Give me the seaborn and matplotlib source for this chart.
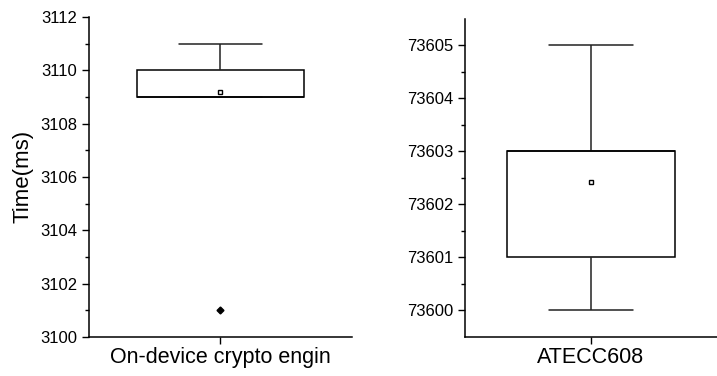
import matplotlib
matplotlib.use("Agg")
import matplotlib.pyplot as plt
from matplotlib.ticker import MultipleLocator, FixedLocator
import seaborn as sns
import pandas as pd

# Measured execution times (ms) for each signing backend
engine_label = "On-device crypto engin"
engine_times = [3101,
                3109, 3109, 3109, 3109, 3109, 3109, 3109, 3109, 3109, 3109,
                3110, 3110, 3110, 3110, 3110, 3110,
                3111, 3111, 3111]

atecc_label = "ATECC608"
atecc_times = [73600, 73600,
               73601, 73601, 73601, 73601, 73601,
               73602,
               73603, 73603, 73603, 73603, 73603, 73603, 73603, 73603, 73603, 73603,
               73604,
               73605, 73605]

sns.set_theme(style="ticks")
plt.rcParams["font.family"] = ["Liberation Sans", "DejaVu Sans"]
plt.rcParams["text.color"] = "black"
plt.rcParams["axes.labelcolor"] = "black"

fig = plt.figure(figsize=(7.17, 3.76), dpi=100)
ax1 = fig.add_axes([0.124, 0.104, 0.367, 0.851])
ax2 = fig.add_axes([0.6485, 0.104, 0.351, 0.8455])

box_kw = dict(
    color="white", linecolor="black", linewidth=1.1,
    showmeans=True,
    meanprops=dict(marker="s", markerfacecolor="white", markeredgecolor="black",
                   markersize=3.5, markeredgewidth=1.0),
    flierprops=dict(marker="D", markerfacecolor="black", markeredgecolor="black",
                    markersize=3.5),
    whiskerprops=dict(color="#222222", linewidth=1.1),
    capprops=dict(color="#222222", linewidth=1.1),
)

df1 = pd.DataFrame({"device": engine_label, "time": engine_times})
df2 = pd.DataFrame({"device": atecc_label, "time": atecc_times})

sns.boxplot(data=df1, x="device", y="time", ax=ax1, width=0.635, **box_kw)
sns.boxplot(data=df2, x="device", y="time", ax=ax2, width=0.667, **box_kw)

ax1.set_ylim(3100, 3112)
ax1.yaxis.set_major_locator(MultipleLocator(2))
ax1.yaxis.set_minor_locator(FixedLocator([3101, 3103, 3105, 3107, 3109, 3111]))
ax1.set_ylabel("Time(ms)", fontsize=16, labelpad=5, color="black")

ax2.set_ylim(73599.5, 73605.5)
ax2.yaxis.set_major_locator(FixedLocator([73600, 73601, 73602, 73603, 73604, 73605]))
ax2.yaxis.set_minor_locator(FixedLocator([73600.5, 73601.5, 73602.5, 73603.5, 73604.5]))
ax2.set_ylabel("")

for ax in (ax1, ax2):
    ax.set_xlim(-0.5, 0.5)
    ax.set_xlabel("")
    ax.ticklabel_format(axis="y", useOffset=False, style="plain")
    for side in ("top", "right"):
        ax.spines[side].set_visible(False)
    for side in ("left", "bottom"):
        ax.spines[side].set_linewidth(1.1)
        ax.spines[side].set_color("black")
    ax.tick_params(axis="y", which="major", direction="out", length=5.3, width=1,
                   labelsize=12, colors="black", pad=3)
    ax.tick_params(axis="y", which="minor", direction="out", length=3, width=1,
                   colors="black")
    ax.tick_params(axis="x", which="major", direction="out", length=5.3, width=1,
                   labelsize=15.5, colors="black", pad=2)

fig.savefig("out.png", dpi=100)
